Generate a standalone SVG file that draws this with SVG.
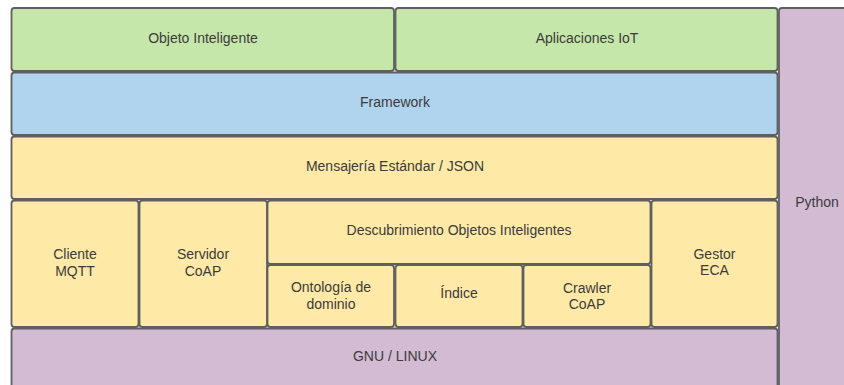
<svg xmlns="http://www.w3.org/2000/svg" width="844" height="385" viewBox="0 0 844 385">
  <style>
    .box { stroke: #5f5f5f; stroke-width: 1.8; }
    .green { fill: #c6e7aa; }
    .blue { fill: #b1d4ee; }
    .yellow { fill: #feeaa6; }
    .purple { fill: #d2bbd3; }
    text { font-family: "Liberation Sans", Arial, sans-serif; font-size: 14px; fill: #3b3b3b; text-anchor: middle; }
  </style>
  <rect x="0" y="0" width="844" height="385" fill="#ffffff"/>

  <!-- Python runtime, spans the full stack on the right -->
  <g id="python">
    <rect class="box purple" x="779" y="8" width="80" height="390" rx="3"/>
    <text x="817" y="206.5">Python</text>
  </g>

  <!-- Top layer -->
  <g id="objeto-inteligente">
    <rect class="box green" x="11.5" y="8" width="382.5" height="63" rx="3"/>
    <text x="203" y="43">Objeto Inteligente</text>
  </g>
  <g id="aplicaciones-iot">
    <rect class="box green" x="395.5" y="8" width="382" height="63" rx="3"/>
    <text x="587" y="43">Aplicaciones IoT</text>
  </g>

  <g id="framework">
    <rect class="box blue" x="11.5" y="72.5" width="766" height="62.5" rx="3"/>
    <text x="395" y="106.5">Framework</text>
  </g>

  <g id="mensajeria">
    <rect class="box yellow" x="11.5" y="136.5" width="766" height="62.5" rx="3"/>
    <text x="395" y="171">Mensajería Estándar / JSON</text>
  </g>

  <!-- Service layer -->
  <g id="cliente-mqtt">
    <rect class="box yellow" x="11.5" y="200.5" width="127" height="126.5" rx="3"/>
    <text x="75" y="259">Cliente</text>
    <text x="75" y="275.5">MQTT</text>
  </g>
  <g id="servidor-coap">
    <rect class="box yellow" x="139.5" y="200.5" width="127.5" height="126.5" rx="3"/>
    <text x="203" y="259">Servidor</text>
    <text x="203" y="275.5">CoAP</text>
  </g>
  <g id="descubrimiento">
    <rect class="box yellow" x="267.5" y="200.5" width="383" height="63.5" rx="3"/>
    <text x="459" y="235">Descubrimiento Objetos Inteligentes</text>
  </g>
  <g id="ontologia">
    <rect class="box yellow" x="267.5" y="265" width="126.5" height="62" rx="3"/>
    <text x="331" y="292">Ontología de</text>
    <text x="331" y="308.5">dominio</text>
  </g>
  <g id="indice">
    <rect class="box yellow" x="395.5" y="265" width="127" height="62" rx="3"/>
    <text x="459" y="298">Índice</text>
  </g>
  <g id="crawler-coap">
    <rect class="box yellow" x="523.5" y="265" width="127" height="62" rx="3"/>
    <text x="587" y="292.5">Crawler</text>
    <text x="587" y="309">CoAP</text>
  </g>
  <g id="gestor-eca">
    <rect class="box yellow" x="651.5" y="200.5" width="126" height="126.5" rx="3"/>
    <text x="714.5" y="258.5">Gestor</text>
    <text x="714.5" y="275">ECA</text>
  </g>

  <!-- Operating system -->
  <g id="gnu-linux">
    <rect class="box purple" x="11.5" y="328.5" width="766" height="70" rx="3"/>
    <text x="395" y="361">GNU / LINUX</text>
  </g>

  <g id="connectors"></g>
</svg>
